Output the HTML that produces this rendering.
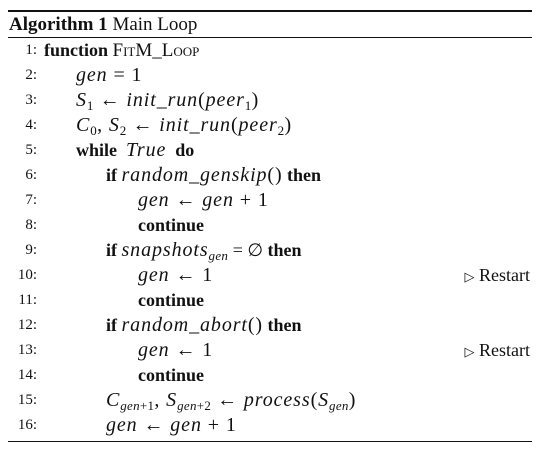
<!DOCTYPE html>
<html><head><meta charset="utf-8"><style>
body{margin:0;width:540px;height:453px;background:#fff;font-family:"Liberation Serif",serif;color:#111;position:relative;overflow:hidden}
.r{position:absolute;left:8px;right:8px;background:#111}
.l{position:absolute;left:0;width:540px;height:25px;line-height:25px;font-size:18px;white-space:nowrap}
.n{position:absolute;left:0;width:37px;text-align:right;font-size:15px}
.c{position:absolute}
.cm{position:absolute;right:10px}
.m{font-size:20px;letter-spacing:0.9px}
i{font-style:italic}
b{font-weight:bold}
sub{font-size:13px;vertical-align:-4px;line-height:0;letter-spacing:0.3px}
.sc{font-variant:small-caps;font-size:19px}
</style></head><body>
<div class="r" style="top:10px;height:2px"></div>
<div class="l" style="top:12px;left:9px;font-size:19px"><b>Algorithm 1</b> Main Loop</div>
<div class="r" style="top:37px;height:1px"></div>

<div class="l" style="top:38px"><span class="n">1:</span><span class="c" style="left:44px"><b>function</b> <span class="sc">FitM_Loop</span></span></div>
<div class="l" style="top:63px"><span class="n">2:</span><span class="c m" style="left:76px"><i>gen</i> = 1</span></div>
<div class="l" style="top:88px"><span class="n">3:</span><span class="c m" style="left:76px"><i>S</i><sub>1</sub> ← <i>init_run</i>(<i>peer</i><sub>1</sub>)</span></div>
<div class="l" style="top:113px"><span class="n">4:</span><span class="c m" style="left:76px"><i>C</i><sub>0</sub>, <i>S</i><sub>2</sub> ← <i>init_run</i>(<i>peer</i><sub>2</sub>)</span></div>
<div class="l" style="top:138px"><span class="n">5:</span><span class="c" style="left:76px"><b>while</b> &nbsp;<span class="m"><i>True</i></span> &nbsp;<b>do</b></span></div>
<div class="l" style="top:163px"><span class="n">6:</span><span class="c" style="left:106px"><b>if</b> <span class="m"><i>random_genskip</i>()</span> <b>then</b></span></div>
<div class="l" style="top:188px"><span class="n">7:</span><span class="c m" style="left:138px"><i>gen</i> ← <i>gen</i> + 1</span></div>
<div class="l" style="top:213px"><span class="n">8:</span><span class="c" style="left:138px"><b>continue</b></span></div>
<div class="l" style="top:238px"><span class="n">9:</span><span class="c" style="left:106px"><b>if</b> <span class="m"><i>snapshots</i><sub><i>gen</i></sub></span> = ∅ <b>then</b></span></div>
<div class="l" style="top:263px"><span class="n">10:</span><span class="c m" style="left:138px"><i>gen</i> ← 1</span><span class="cm"><span style="font-size:13px">▷</span> Restart</span></div>
<div class="l" style="top:288px"><span class="n">11:</span><span class="c" style="left:138px"><b>continue</b></span></div>
<div class="l" style="top:313px"><span class="n">12:</span><span class="c" style="left:106px"><b>if</b> <span class="m"><i>random_abort</i>()</span> <b>then</b></span></div>
<div class="l" style="top:338px"><span class="n">13:</span><span class="c m" style="left:138px"><i>gen</i> ← 1</span><span class="cm"><span style="font-size:13px">▷</span> Restart</span></div>
<div class="l" style="top:363px"><span class="n">14:</span><span class="c" style="left:138px"><b>continue</b></span></div>
<div class="l" style="top:388px"><span class="n">15:</span><span class="c m" style="left:106px"><i>C</i><sub><i>gen</i>+1</sub>, <i>S</i><sub><i>gen</i>+2</sub> ← <i>process</i>(<i>S</i><sub><i>gen</i></sub>)</span></div>
<div class="l" style="top:413px"><span class="n">16:</span><span class="c m" style="left:106px"><i>gen</i> ← <i>gen</i> + 1</span></div>
<div class="r" style="top:441px;height:1px"></div>
</body></html>
